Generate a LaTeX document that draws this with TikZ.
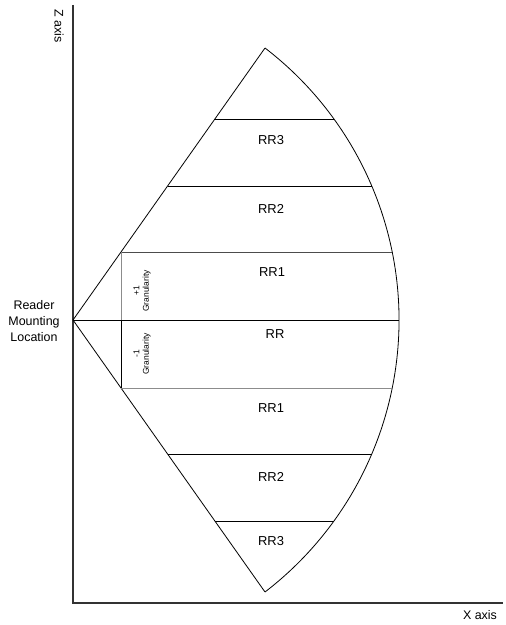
\documentclass[tikz,border=0pt]{standalone}
\usepackage{fontspec}
\setmainfont{Liberation Sans}
\begin{document}
\begin{tikzpicture}[x=1bp,y=-1bp,
  axisline/.style={line width=1.8bp,draw=black!80},
  edge/.style={line width=0.8bp,draw=black},
  softedge/.style={line width=0.8bp,draw=black!45},
  lbl/.style={font=\fontsize{13}{15}\selectfont,inner sep=0pt},
  gran/.style={font=\fontsize{8.5}{9.5}\selectfont,align=center,rotate=90,inner sep=0pt},
  axlbl/.style={font=\fontsize{12.5}{15}\selectfont,inner sep=0pt}]
\useasboundingbox (0,0) rectangle (506,625);
% axes
\coordinate (ztop) at (73,5);
\coordinate (orig) at (73,603);
\coordinate (xend) at (503,603);
\draw[axisline] (ztop) -- (orig) -- (xend);
\node[axlbl,rotate=-90] (zlab) at (59,26) {Z axis};
\node[axlbl] (xlab) at (480,615) {X axis};
\node[axlbl,align=center,font=\fontsize{12.5}{16}\selectfont] (reader) at (34,321) {Reader\\Mounting\\Location};
% cone
\coordinate (apex) at (73,320);
\coordinate (top) at (265,48);
\coordinate (bot) at (265,592);
\coordinate (ctr) at (56,320);
\draw[edge] (top) -- (apex) -- (bot);
\draw[edge] (top) arc[start angle=-52.47,end angle=52.47,radius=343];
% horizontal bands
\coordinate (l3u) at (215,119); \coordinate (r3u) at (333.9,119);
\coordinate (l2u) at (167.6,186); \coordinate (r2u) at (371.7,186);
\coordinate (l1u) at (121,252); \coordinate (r1u) at (392.2,252);
\coordinate (r0) at (399,320);
\coordinate (l1d) at (121,388); \coordinate (r1d) at (392.2,388);
\coordinate (l2d) at (167.6,454); \coordinate (r2d) at (371.7,454);
\coordinate (l3d) at (215,521); \coordinate (r3d) at (333.9,521);
\draw[edge] (l3u) -- (r3u);
\draw[edge] (l2u) -- (r2u);
\draw[edge,draw=black!70] (l1u) -- (r1u);
\draw[edge] (apex) -- (r0);
\draw[softedge] (l1d) -- (r1d);
\draw[edge] (l2d) -- (r2d);
\draw[edge] (l3d) -- (r3d);
% granularity line
\coordinate (gmid) at (121,320);
\draw[softedge] (l1u) -- (gmid);
\draw[edge] (gmid) -- (l1d);
\node[gran] (gup) at (142,291) {+1\\Granularity};
\node[gran] (gdn) at (142,354) {-1\\Granularity};
% labels
\node[lbl] (rr3u) at (271,140) {RR3};
\node[lbl] (rr2u) at (271,209) {RR2};
\node[lbl] (rr1u) at (272,272) {RR1};
\node[lbl] (rr0) at (275,334) {RR};
\node[lbl] (rr1d) at (271,408) {RR1};
\node[lbl] (rr2d) at (271,477) {RR2};
\node[lbl] (rr3d) at (271,541) {RR3};
\end{tikzpicture}
\end{document}
